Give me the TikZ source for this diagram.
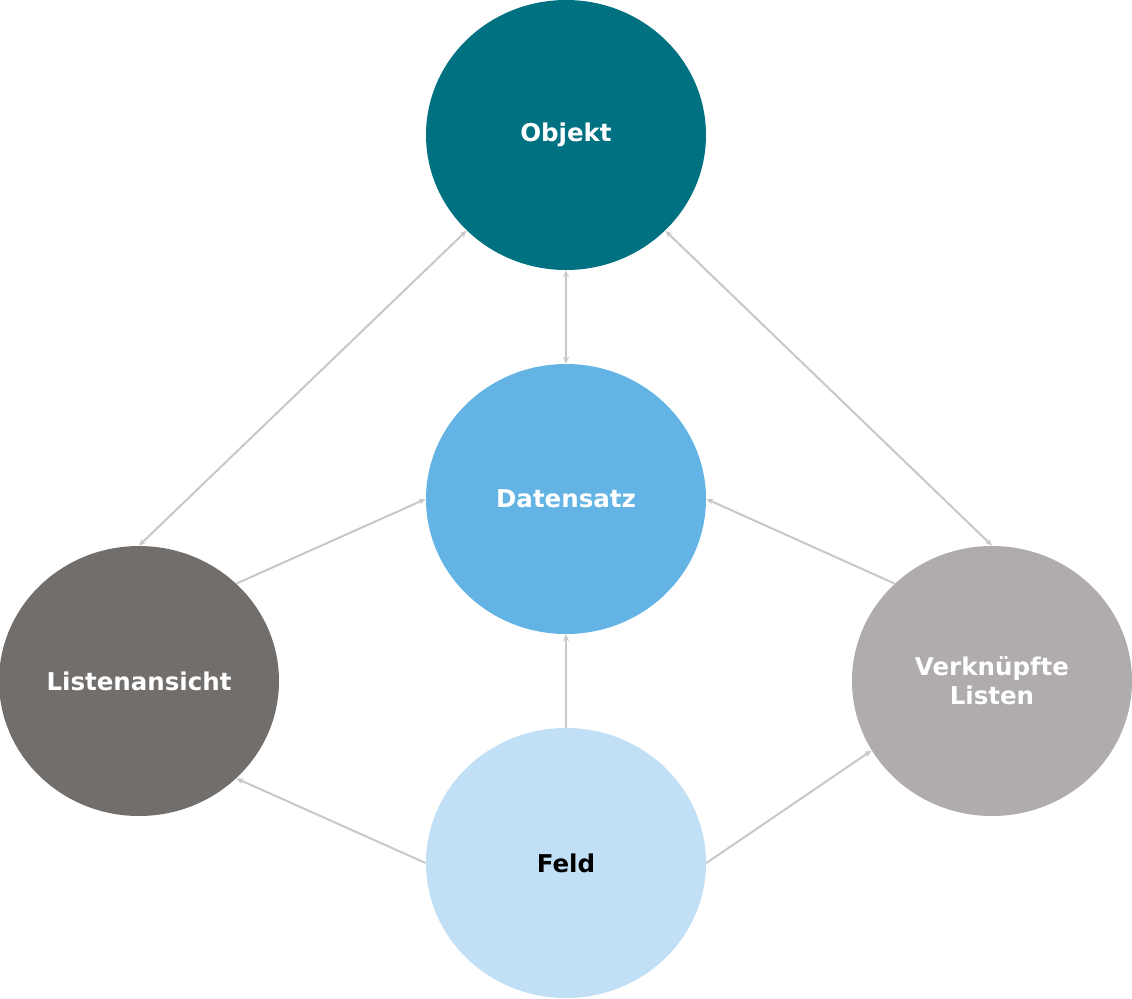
\documentclass[tikz,border=0pt]{standalone}
\usepackage{fontspec}
\setmainfont{DejaVu Sans}
\usepackage{xcolor}
\usetikzlibrary{arrows.meta,shapes.geometric}
\definecolor{objteal}{HTML}{007180}
\definecolor{datblue}{HTML}{63B4E4}
\definecolor{feldblue}{HTML}{C1E0F5}
\definecolor{listgray}{HTML}{726E6B}
\definecolor{verkgray}{HTML}{AFACAB}
\definecolor{linkgray}{HTML}{C8C8C8}

\begin{document}
\begin{tikzpicture}[x=0.5pt,y=-0.5pt,
    entity/.style={ellipse, minimum width=140pt, minimum height=135pt, inner sep=0pt,
        align=center, text=white, font=\fontsize{12.25}{14.5}\selectfont\bfseries},
    link/.style={draw=linkgray, line width=1pt},
    tip/.style={-{Stealth[length=3.5pt,width=3pt]}}]
    \useasboundingbox (0,0) rectangle (1132,998);

    % Entities
    \node[entity, fill=objteal] (objekt) at (566,135) {Objekt};
    \node[entity, fill=datblue] (datensatz) at (566,499) {Datensatz};
    \node[entity, fill=listgray] (liste) at (139,681) {Listenansicht};
    \node[entity, fill=verkgray] (verk) at (992,681) {Verkn\"upfte\\Listen};
    \node[entity, fill=feldblue, text=black] (feld) at (566,863) {Feld};

    % Links to Objekt
    \draw[link, {Stealth[length=3.5pt,width=3pt]}-{Stealth[length=3.5pt,width=3pt]}] (objekt) -- (datensatz);
    \draw[link, {Stealth[length=3.5pt,width=3pt]}-{Stealth[length=3.5pt,width=3pt]}] (liste.north) -- (objekt);
    \draw[link, {Stealth[length=3.5pt,width=3pt]}-{Stealth[length=3.5pt,width=3pt]}] (verk.north) -- (objekt);

    % Links to Datensatz
    \draw[link, tip] (liste.45) -- (datensatz.west);
    \draw[link, tip] (verk.135) -- (datensatz.east);
    \draw[link, tip] (feld.north) -- (datensatz.south);

    % Links from Feld
    \draw[link, tip] (feld.west) -- (liste.-45);
    \draw[link, tip] (feld.east) -- (verk.210);
\end{tikzpicture}
\end{document}
